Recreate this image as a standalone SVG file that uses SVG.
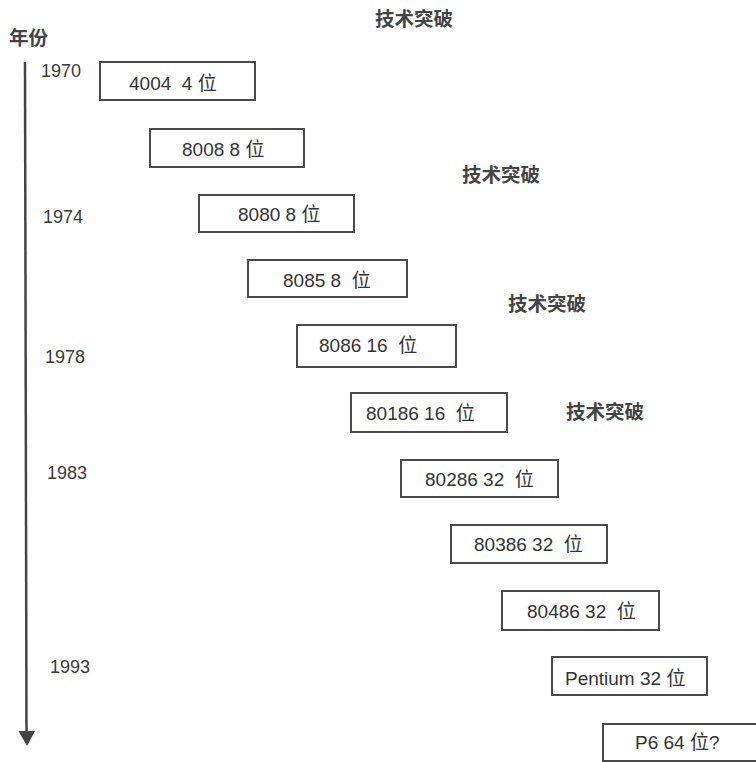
<svg xmlns="http://www.w3.org/2000/svg" width="756" height="762" viewBox="0 0 756 762">
<style>
.bx{fill:#fff;stroke:#4a4a4a;stroke-width:2}
.t{font-family:"Liberation Sans","Noto Sans CJK SC",sans-serif;font-size:19px;fill:#333;white-space:pre}
.y{font-family:"Liberation Sans","Noto Sans CJK SC",sans-serif;font-size:18px;fill:#3a3a3a}
.b{font-family:"Noto Sans CJK SC",sans-serif;font-size:19.5px;font-weight:bold;fill:#444}
</style>
<rect width="756" height="762" fill="#fff"/>
<g id="axis">
<line x1="25" y1="62" x2="26.5" y2="734" stroke="#444" stroke-width="2.5"/>
<path d="M18.5,731 L35,731 L27,746 Z" fill="#444"/>
<text class="b" x="9" y="45">年份</text>
</g>
<g id="years">
<text class="y" x="41" y="77">1970</text>
<text class="y" x="43" y="223">1974</text>
<text class="y" x="45" y="363">1978</text>
<text class="y" x="47" y="479">1983</text>
<text class="y" x="50" y="673">1993</text>
</g>
<g id="breakthroughs">
<text class="b" x="375" y="26">技术突破</text>
<text class="b" x="462" y="182">技术突破</text>
<text class="b" x="508" y="311">技术突破</text>
<text class="b" x="566" y="419">技术突破</text>
</g>
<g id="n4004"><rect class="bx" x="100" y="62" width="155" height="38"/><text class="t" x="129" y="90">4004  4 位</text></g>
<g id="n8008"><rect class="bx" x="150" y="129" width="154" height="38"/><text class="t" x="182" y="156">8008 8 位</text></g>
<g id="n8080"><rect class="bx" x="199" y="195" width="155" height="37"/><text class="t" x="238" y="221">8080 8 位</text></g>
<g id="n8085"><rect class="bx" x="248" y="260" width="159" height="37"/><text class="t" x="283" y="287">8085 8  位</text></g>
<g id="n8086"><rect class="bx" x="297" y="325" width="159" height="42"/><text class="t" x="319" y="352">8086 16  位</text></g>
<g id="n80186"><rect class="bx" x="351" y="393" width="156" height="39"/><text class="t" x="366" y="420">80186 16  位</text></g>
<g id="n80286"><rect class="bx" x="401" y="460" width="157" height="37"/><text class="t" x="425" y="486">80286 32  位</text></g>
<g id="n80386"><rect class="bx" x="451" y="525" width="156" height="38"/><text class="t" x="474" y="551">80386 32  位</text></g>
<g id="n80486"><rect class="bx" x="502" y="591" width="157" height="39"/><text class="t" x="527" y="618">80486 32  位</text></g>
<g id="nPentium"><rect class="bx" x="552" y="657" width="155" height="38"/><text class="t" x="565" y="685">Pentium 32 位</text></g>
<g id="nP6"><rect class="bx" x="603" y="724" width="160" height="37"/><text class="t" x="635" y="749">P6 64 位?</text></g>
</svg>
